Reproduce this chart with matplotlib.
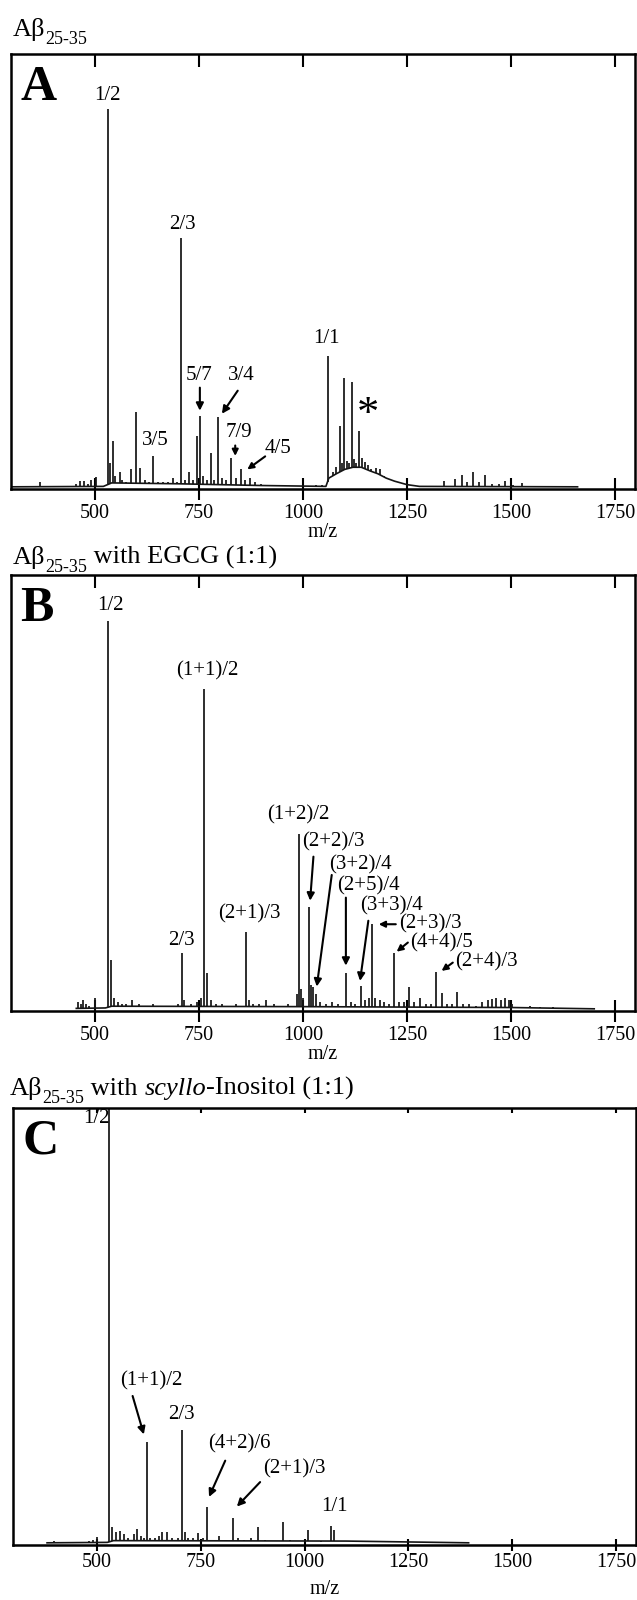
import numpy as np
import matplotlib
matplotlib.use("Agg")
import matplotlib.pyplot as plt

plt.rcParams['font.family'] = ['Liberation Serif', 'DejaVu Serif']

# ---------------- data (m/z, relative intensity %) ----------------
a_peak_mz = [368, 455, 465, 473, 482, 490, 503, 530, 536, 542, 549, 559, 566, 575, 587, 598, 609,
             620, 630, 640, 652, 663, 675, 688, 697, 707, 716, 726, 735, 744, 752, 760, 768, 778,
             787, 796, 805, 815, 828, 838, 850, 860, 873, 885, 900, 915, 940, 960, 985, 1010, 1030,
             1045, 1059, 1072, 1080, 1088, 1093, 1099, 1105, 1110, 1117, 1122, 1128, 1135, 1142,
             1148, 1155, 1163, 1176, 1184, 1195, 1210, 1225, 1339, 1365, 1382, 1395, 1409, 1422,
             1437, 1455, 1470, 1486, 1505, 1526, 1560, 1600]
a_peak_int = [1.5, 1.2, 1.8, 1.8, 1.2, 2.0, 2.8, 87.3, 6.0, 11.1, 3.0, 3.8, 2.0, 1.5, 4.6, 17.8, 4.8,
              2.0, 1.5, 7.6, 1.5, 1.5, 1.5, 2.5, 1.5, 57.7, 2.0, 4.0, 2.0, 12.2, 16.8, 3.0, 2.0, 8.2,
              2.0, 16.6, 2.5, 2.0, 7.1, 2.5, 4.6, 2.0, 2.5, 1.5, 1.2, 1.0, 1.0, 0.8, 0.8, 0.8, 1.0,
              1.0, 30.6, 4.0, 5.0, 14.4, 6.0, 25.6, 6.5, 6.0, 24.7, 7.0, 6.0, 13.4, 7.1,
              6.3, 5.5, 4.5, 4.8, 4.5, 3.0, 2.2, 1.5, 1.8, 2.2, 3.3, 1.5, 3.8, 1.5,
              3.3, 1.2, 1.2, 1.9, 1.0, 1.3, 0.8, 0.7]
a_base_mz = [300, 520, 540, 700, 900, 1055, 1062, 1080, 1100, 1120, 1140, 1160, 1180, 1200, 1220,
             1250, 1280, 1660]
a_base_int = [0.5, 0.6, 1.4, 1.2, 0.8, 0.6, 2.5, 3.5, 4.5, 5.0, 5.0, 4.2, 3.5, 2.5, 1.8, 1.0, 0.6, 0.5]

b_peak_mz = [460, 466, 472, 478, 485, 500, 531, 539, 546, 556, 565, 575, 590, 605, 620, 640, 660,
             680, 700, 708, 715, 730, 745, 755, 761, 769, 778, 790, 805, 820, 840, 862, 870, 880,
             895, 912, 930, 950, 965, 985, 990, 995, 1000, 1015, 1020, 1025, 1030, 1040, 1055,
             1070, 1085, 1103, 1115, 1125, 1140, 1150, 1158, 1165, 1172, 1185, 1195, 1206, 1218,
             1230, 1242, 1254, 1266, 1281, 1295, 1307, 1320, 1333, 1345, 1357, 1370, 1385, 1400,
             1415, 1430, 1445, 1455, 1465, 1475, 1485, 1495, 1503, 1520, 1545, 1570, 1600, 1630,
             1660]
b_peak_int = [2.0, 1.5, 2.5, 1.5, 1.2, 3.0, 89.4, 11.6, 3.0, 2.0, 1.5, 1.5, 2.5, 1.5, 1.2, 1.5, 1.2,
              1.2, 1.5, 13.2, 2.5, 1.5, 2.0, 3.0, 73.8, 8.8, 2.5, 1.5, 1.5, 1.2, 1.5, 18.2, 2.5, 1.5,
              1.5, 2.5, 1.5, 1.2, 1.5, 4.0, 40.5, 5.0, 3.0, 23.9, 6.0, 5.5, 4.0, 2.0, 1.5,
              2.0, 1.5, 8.8, 2.0, 1.5, 5.7, 2.5, 3.0, 19.9, 3.0, 2.5, 2.0, 1.5, 13.4,
              2.0, 2.0, 5.4, 2.0, 3.0, 1.5, 1.5, 9.0, 4.2, 1.5, 1.5, 4.4, 1.5, 1.5,
              1.2, 2.0, 2.5, 2.8, 3.0, 2.5, 3.0, 2.5, 1.5, 1.0, 1.2, 1.0, 1.0, 0.8,
              0.8]
b_base_mz = [455, 525, 540, 1000, 1500, 1700]
b_base_int = [0.6, 0.7, 1.1, 1.0, 0.8, 0.5]

c_peak_mz = [397, 460, 480, 490, 500, 530, 537, 545, 556, 565, 575, 590, 596, 605, 613, 620, 628,
             640, 650, 657, 668, 680, 695, 706, 712, 720, 732, 743, 755, 766, 780, 795, 810, 827,
             840, 855, 870, 888, 905, 920, 935, 948, 965, 980, 995, 1009, 1025, 1040, 1063, 1070,
             1085, 1100, 1115, 1130, 1150, 1180, 1215, 1250, 1290, 1330, 1370]
c_peak_int = [1.0, 0.8, 1.0, 1.2, 1.9, 105.0, 4.1, 3.0, 3.3, 2.5, 1.5, 2.5, 3.7, 2.0, 1.5, 23.6, 1.5,
              1.5, 2.0, 3.0, 3.0, 1.5, 1.5, 26.3, 3.0, 1.5, 1.5, 2.8, 1.5, 8.8, 1.2, 2.0, 1.2, 6.2,
              1.5, 1.2, 1.5, 4.1, 1.2, 1.0, 1.0, 5.2, 1.2, 1.0, 1.0, 3.5, 1.0, 0.8, 4.4, 3.5,
              1.0, 1.0, 1.0, 0.8, 0.8, 0.7, 0.7, 1.0, 0.6, 0.6, 0.6]
c_base_mz = [380, 525, 540, 1100, 1395]
c_base_int = [0.5, 0.6, 1.0, 0.9, 0.5]

x_ticks = [500, 750, 1000, 1250, 1500, 1750]
x_lim = (298, 1798)

W, H = 637, 1600
fig = plt.figure(figsize=(W / 100, H / 100), dpi=100)

TICKFS = 14.5
LABFS = 14.5
PEAKFS = 15


def make_axes(left, top, right, bottom, tick_len, top_len, pad, labelpad):
    ax = fig.add_axes([left / W, 1 - bottom / H, (right - left) / W, (bottom - top) / H])
    ax.set_xlim(*x_lim)
    ax.set_ylim(0, 100)
    ax.set_yticks([])
    for s in ax.spines.values():
        s.set_linewidth(1.8)
    ax.set_xticks(x_ticks)
    ax.tick_params(axis='x', direction='inout', length=tick_len, width=1.5,
                   labelsize=TICKFS, pad=pad, top=False)
    sec = ax.secondary_xaxis('top')
    sec.set_xticks(x_ticks)
    sec.tick_params(direction='in', length=top_len, width=1.5, labeltop=False)
    sec.spines['top'].set_visible(False)
    ax.set_xlabel('m/z', fontsize=LABFS, labelpad=labelpad)
    return ax


def draw_spectrum(ax, pmz, pint, bmz, bint):
    pmz = np.asarray(pmz, float)
    pint = np.asarray(pint, float)
    ax.plot(bmz, bint, color='#151515', lw=1.2, solid_joinstyle='round')
    bottoms = np.interp(pmz, bmz, bint)
    ax.vlines(pmz, bottoms, pint, color='#151515', lw=1.25)


def label(ax, s, x, y, fs=PEAKFS, **kw):
    ax.text(x, y, s, fontsize=fs, ha='center', va='center', **kw)


def arrow(ax, tail, head, ms=11):
    ax.annotate('', xy=head, xytext=tail,
                arrowprops=dict(arrowstyle='-|>', lw=1.5, color='black',
                                mutation_scale=ms, shrinkA=0, shrinkB=0))


def title(ax, x, y, parts, fs=19, subfs=13):
    first = fig.text(x / W, 1 - y / H, parts[0][0], fontsize=fs, ha='left', va='baseline')
    prev, base = first, first
    for txt, style in parts[1:]:
        if style == 'sub':
            t = ax.annotate(txt, xy=(1, 0), xycoords=(prev, base), xytext=(0, -2.5),
                            textcoords='offset points', fontsize=subfs,
                            ha='left', va='baseline', annotation_clip=False)
        else:
            t = ax.annotate(txt, xy=(1, 0), xycoords=(prev, base), fontsize=fs,
                            ha='left', va='bottom', annotation_clip=False,
                            fontstyle='italic' if style == 'it' else 'normal')
        prev = t


def panel_letter(ax, s):
    ax.text(0.0145, 0.975, s, transform=ax.transAxes, fontsize=36, fontweight='bold',
            ha='left', va='top')


# ---------------- Panel A ----------------
axA = make_axes(11, 54, 635, 489, 16, 9.4, 3, 0)
draw_spectrum(axA, a_peak_mz, a_peak_int, a_base_mz, a_base_int)
panel_letter(axA, 'A')
title(axA, 13, 36, [('A\u03b2', 'n'), ('25-35', 'sub')])
label(axA, '1/2', 530, 90.5)
label(axA, '2/3', 709, 60.8)
label(axA, '1/1', 1057, 34.6)
label(axA, '3/5', 645, 11.2)
label(axA, '5/7', 749, 26.2)
arrow(axA, (752, 23.3), (752, 18.0))
label(axA, '3/4', 851, 26.2)
arrow(axA, (843, 22.6), (805, 17.3))
label(axA, '7/9', 847, 13.0)
arrow(axA, (837, 10.0), (837, 7.6), ms=9)
label(axA, '4/5', 941, 9.4)
arrow(axA, (909, 7.5), (866, 4.5), ms=9)
axA.text(1157, 17.0, '*', fontsize=32, ha='center', va='center')

# ---------------- Panel B ----------------
axB = make_axes(11, 575, 635, 1011, 16, 9.4, 3, 0)
draw_spectrum(axB, b_peak_mz, b_peak_int, b_base_mz, b_base_int)
panel_letter(axB, 'B')
title(axB, 13, 564, [('A\u03b2', 'n'), ('25-35', 'sub'), (' with EGCG (1:1)', 'n')])
label(axB, '1/2', 536, 93.0)
label(axB, '(1+1)/2', 769, 78.0)
label(axB, '2/3', 707, 16.2)
label(axB, '(2+1)/3', 870, 22.2)
label(axB, '(1+2)/2', 989, 45.0)
label(axB, '(2+2)/3', 1074, 38.8)
arrow(axB, (1025, 35.4), (1017, 25.3))
label(axB, '(3+2)/4', 1137, 33.5)
arrow(axB, (1069, 31.2), (1033, 5.6))
label(axB, '(2+5)/4', 1157, 28.8)
arrow(axB, (1103, 26.0), (1103, 10.4))
label(axB, '(3+3)/4', 1212, 24.1)
arrow(axB, (1157, 20.7), (1137, 6.9))
label(axB, '(2+3)/3', 1306, 20.1)
arrow(axB, (1223, 19.9), (1182, 19.9), ms=9)
label(axB, '(4+4)/5', 1333, 15.6)
arrow(axB, (1252, 15.7), (1225, 13.6), ms=9)
label(axB, '(2+4)/3', 1442, 11.2)
arrow(axB, (1360, 11.1), (1333, 9.2), ms=9)

# ---------------- Panel C ----------------
axC = make_axes(13, 1108, 636, 1545, 8.6, 3.6, 1.5, 6)
draw_spectrum(axC, c_peak_mz, c_peak_int, c_base_mz, c_base_int)
panel_letter(axC, 'C')
title(axC, 10, 1095, [('A\u03b2', 'n'), ('25-35', 'sub'), (' with ', 'n'),
                      ('scyllo', 'it'), ('-Inositol (1:1)', 'n')])
label(axC, '1/2', 498, 97.6)
label(axC, '(1+1)/2', 631, 37.6)
arrow(axC, (586, 34.1), (613, 25.3))
label(axC, '2/3', 704, 29.8)
label(axC, '(4+2)/6', 844, 23.2)
arrow(axC, (809, 19.3), (770, 11.0))
label(axC, '(2+1)/3', 976, 17.4)
arrow(axC, (893, 14.4), (837, 8.8))
label(axC, '1/1', 1073, 8.8)

fig.savefig('out.png', dpi=100)
